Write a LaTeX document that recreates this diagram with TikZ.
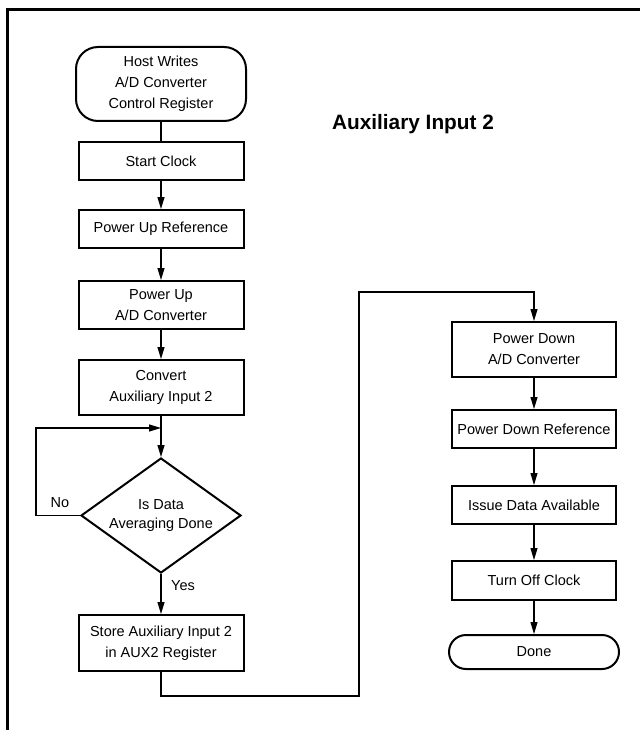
\documentclass[tikz,border=0pt]{standalone}
\usepackage{fontspec}
\setmainfont{Liberation Sans}
\usetikzlibrary{shapes.geometric,arrows.meta}
\tikzset{
  boxn/.style={draw, line width=2pt, minimum width=165pt, inner sep=0pt, align=center,
    font=\fontsize{14.5}{21}\selectfont},
  termn/.style={boxn, minimum width=170pt},
  decn/.style={draw, diamond, line width=2pt, aspect=1.39, minimum width=160pt, minimum height=115pt,
    inner sep=0pt, align=center, font=\fontsize{14.5}{19}\selectfont},
  conn/.style={line width=1.1pt},
  arr/.style={conn, -{Triangle[length=12pt,width=7pt]}},
  lbl/.style={font=\fontsize{14.5}{17}\selectfont, inner sep=0pt}
}
\begin{document}
\begin{tikzpicture}[x=1pt,y=-1pt]
\useasboundingbox (0,0) rectangle (640,730);
\draw[line width=3pt] (7.5,730) -- (7.5,10) -- (640,10);

\node[font=\bfseries\fontsize{20.8}{24}\selectfont] (title) at (413,124) {Auxiliary Input 2};

\node[termn, rounded corners=22pt, minimum height=74pt] (host) at (161,84) {Host Writes\\A/D Converter\\Control Register};
\node[boxn, minimum height=38pt] (start) at (161,161) {Start Clock};
\node[boxn, minimum height=38pt] (pref) at (161,229) {Power Up Reference};
\node[boxn, minimum height=48pt] (padc) at (161,305) {Power Up\\A/D Converter};
\node[boxn, minimum height=55pt] (conv) at (161,387.5) {Convert\\Auxiliary Input 2};
\node[decn] (dec) at (161,515.5) {Is Data\\Averaging Done};
\node[boxn, minimum height=56pt] (store) at (161,643) {Store Auxiliary Input 2\\in AUX2 Register};

\node[boxn, minimum width=164pt, minimum height=55pt] (pdadc) at (534,349.5) {Power Down\\A/D Converter};
\node[boxn, minimum width=164pt, minimum height=38pt] (pdref) at (534,429) {Power Down Reference};
\node[boxn, minimum width=164pt, minimum height=38pt] (issue) at (534,505) {Issue Data Available};
\node[boxn, minimum width=164pt, minimum height=39pt] (toff) at (534,580.5) {Turn Off Clock};
\node[termn, rounded corners=17pt, minimum height=34pt] (done) at (534,652) {Done};

\node[lbl] (no) at (60,503) {No};
\node[lbl] (yes) at (183,586) {Yes};

\coordinate (j) at (161,428);
\coordinate (l1) at (36,515.5);
\coordinate (l2) at (36,428);
\coordinate (s1) at (161,696);
\coordinate (s2) at (359,696);
\coordinate (s3) at (359,292);
\coordinate (s4) at (534,292);

\draw[conn] (host) -- (start);
\draw[arr] (start) -- (pref);
\draw[arr] (pref) -- (padc);
\draw[arr] (padc) -- (conv);
\draw[arr] (conv) -- (dec);
\draw[arr] (dec.west) -- (l1) -- (l2) -- (j);
\draw[arr] (dec) -- (store);
\draw[arr] (store.south) -- (s1) -- (s2) -- (s3) -- (s4) -- (pdadc.north);
\draw[arr] (pdadc) -- (pdref);
\draw[arr] (pdref) -- (issue);
\draw[arr] (issue) -- (toff);
\draw[arr] (toff) -- (done);
\end{tikzpicture}
\end{document}
